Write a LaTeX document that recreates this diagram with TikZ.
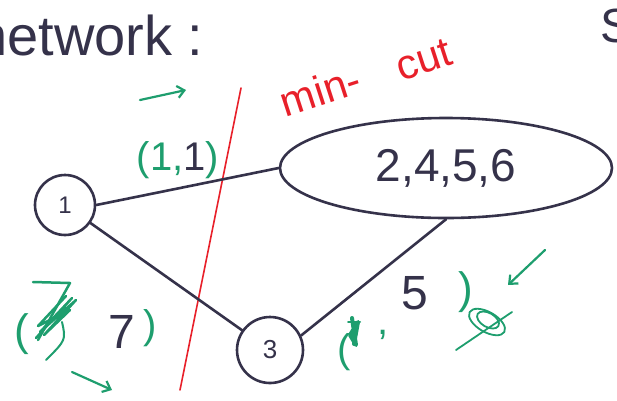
\documentclass[tikz,border=0pt]{standalone}
\usepackage{fontspec}
\setmainfont{Liberation Sans}
\usetikzlibrary{shapes.geometric,arrows.meta}
\definecolor{ink}{HTML}{35324A}
\definecolor{grn}{HTML}{1E9E6E}
\definecolor{rd}{HTML}{E8202A}
\tikzset{
  circ/.style={circle,draw=ink,line width=2.6pt,text=ink,inner sep=0pt},
  ell/.style={ellipse,draw=ink,line width=2.6pt,text=ink,inner sep=0pt},
  edge/.style={draw=ink,line width=2.6pt,line cap=round},
  garrow/.style={draw=grn,line width=2.2pt,line cap=round,-{Straight Barb[length=7pt,width=12pt]}},
  scrib/.style={draw=grn,line width=2.5pt,line cap=round,line join=round},
  lbl/.style={inner sep=0pt}
}
\begin{document}
\begin{tikzpicture}[x=1pt,y=-1pt]
\useasboundingbox[fill=white] (0,0) rectangle (617,400);
% title texts
\node[lbl,anchor=base west,text=ink,font=\fontsize{56}{60}\selectfont] (title) at (-24,55) {network :};
\node[lbl,anchor=base west,text=ink,font=\fontsize{48}{52}\selectfont] (s) at (600,42) {S};
% min cut
\node[lbl,text=rd,rotate=18,font=\fontsize{42}{46}\selectfont] (mc1) at (320,90) {min-};
\node[lbl,text=rd,rotate=18,font=\fontsize{42}{46}\selectfont] (mc2) at (424,60) {cut};
\coordinate (cuttop) at (241,88);
\coordinate (cutbot) at (180,390);
\draw[rd,line width=1.6pt,line cap=round] (cuttop) -- (cutbot);
% nodes
\node[circ,minimum size=60pt,font=\fontsize{24}{26}\selectfont] (n1) at (65,205) {1};
\node[ell,minimum width=332pt,minimum height=100pt,font=\fontsize{46}{50}\selectfont] (n2) at (446,168) {2,4,5,6};
\node[circ,minimum size=66pt,font=\fontsize{26}{28}\selectfont] (n3) at (270,350) {3};
% edges
\draw[edge] (n1.east) -- (n2.west);
\draw[edge] (n1) -- (n3);
\draw[edge] (n3.25) -- (n2.south);
% label (1,1)
\node[lbl,font=\fontsize{40}{44}\selectfont] (l11) at (178,160) {\color{grn}(1,\color{ink}1\color{grn})};
\coordinate (a1s) at (140,100);
\coordinate (a1e) at (186,90);
\draw[garrow] (a1s) -- (a1e);
% label (7,7)
\node[lbl,text=grn,font=\fontsize{44}{48}\selectfont] (lp) at (22,334) {(};
\node[lbl,text=ink,font=\fontsize{48}{52}\selectfont] (l7) at (122,332) {7};
\node[lbl,text=grn,font=\fontsize{40}{44}\selectfont] (rp) at (150,328) {)};
\draw[scrib] (33,282) -- (70,283) -- (38,340);
\draw[scrib] (36,338) -- (72,298) -- (40,332) -- (76,300) -- (44,335) -- (70,310) -- (38,326) -- (66,296);
\draw[scrib,line width=2pt] (62,322) .. controls (66,340) .. (46,360);
\coordinate (a2s) at (72,372);
\coordinate (a2e) at (112,390);
\draw[garrow] (a2s) -- (a2e);
% label (5,5)
\node[lbl,text=grn,font=\fontsize{40}{44}\selectfont] (lp3) at (344,352) {(};
\draw[scrib,line width=4pt] (352,318) -- (356,345) -- (350,335) -- (358,322) -- (354,344);
\draw[scrib,line width=2pt] (348,322) -- (360,322);
\node[lbl,text=grn,font=\fontsize{40}{44}\selectfont] (cm) at (383,335) {,};
\node[lbl,text=ink,font=\fontsize{48}{52}\selectfont] (l5) at (415,293) {5};
\node[lbl,text=grn,font=\fontsize{44}{48}\selectfont] (rp3) at (466,292) {)};
\draw[scrib,line width=1.8pt,rotate around={-30:(487,322)}] (487,322) ellipse (20pt and 10pt);
\draw[scrib,line width=1.8pt,rotate around={-30:(488,320)}] (488,320) ellipse (12pt and 7pt);
\draw[scrib,line width=1.8pt] (456,350) -- (512,312);
\coordinate (a3s) at (545,250);
\coordinate (a3e) at (508,285);
\draw[garrow] (a3s) -- (a3e);
\end{tikzpicture}
\end{document}
